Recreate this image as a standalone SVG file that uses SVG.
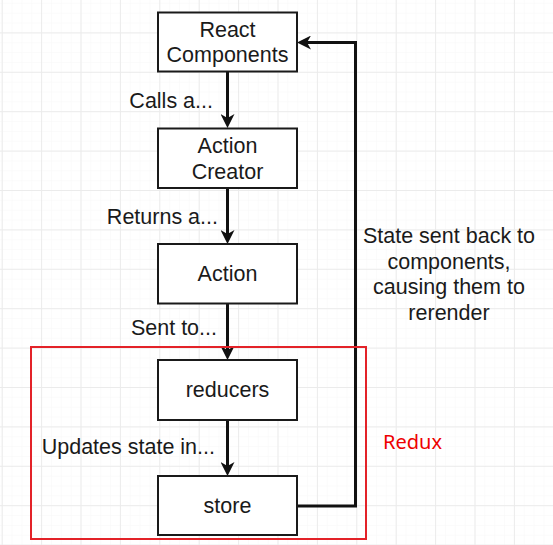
<svg xmlns="http://www.w3.org/2000/svg" width="553" height="545" viewBox="0 0 553 545">
  <style>
    .box { fill: #ffffff; stroke: #1a1a1a; stroke-width: 2; }
    .nt { font-family: "Liberation Sans", Arial, sans-serif; font-size: 21.5px; fill: #1a1a1a; text-anchor: middle; }
    .lbl { font-family: "Liberation Sans", Arial, sans-serif; font-size: 21.5px; fill: #1a1a1a; text-anchor: end; }
    .edge { fill: none; stroke: #111111; stroke-width: 3; }
  </style>
  <defs>
    <pattern id="minor" patternUnits="userSpaceOnUse" x="1.7" y="-7" width="9.85" height="9.85">
      <path d="M0,0 V9.85 M0,0 H9.85" fill="none" stroke="#f8f8f8" stroke-width="1"/>
    </pattern>
    <pattern id="major" patternUnits="userSpaceOnUse" x="1.7" y="-7" width="39.4" height="39.4">
      <path d="M0.5,0 V39.4 M0,0.5 H39.4" fill="none" stroke="#ebebeb" stroke-width="1"/>
    </pattern>
    <marker id="arrow" markerUnits="userSpaceOnUse" viewBox="0 0 14 14" markerWidth="14" markerHeight="14" refX="8" refY="7" orient="auto">
      <path d="M0,0 L14,7 L0,14 L4,7 Z" fill="#111111"/>
    </marker>
  </defs>
  <rect width="553" height="545" fill="#ffffff"/>
  <rect width="553" height="545" fill="url(#minor)"/>
  <rect width="553" height="545" fill="url(#major)"/>

  <g id="connectors">
    <path class="edge" d="M227.5,71 V122" marker-end="url(#arrow)"/>
    <path class="edge" d="M227.5,188 V238" marker-end="url(#arrow)"/>
    <path class="edge" d="M227.5,303 V354" marker-end="url(#arrow)"/>
    <path class="edge" d="M227.5,420 V470" marker-end="url(#arrow)"/>
    <path class="edge" d="M297,506 H355.5 V42.5 H303" marker-end="url(#arrow)"/>
    <text class="lbl" x="213" y="108">Calls a...</text>
    <text class="lbl" x="218" y="224">Returns a...</text>
    <text class="lbl" x="217" y="335">Sent to...</text>
    <text class="lbl" x="215" y="454">Updates state in...</text>
    <text class="nt" x="449" y="243">State sent back to</text>
    <text class="nt" x="449" y="268.5">components,</text>
    <text class="nt" x="449" y="294">causing them to</text>
    <text class="nt" x="449" y="319.5">rerender</text>
  </g>

  <g id="react-components">
    <rect class="box" x="158" y="12.5" width="139" height="59"/>
    <text class="nt" x="227.5" y="36.5">React</text>
    <text class="nt" x="227.5" y="62">Components</text>
  </g>
  <g id="action-creator">
    <rect class="box" x="158" y="128.5" width="139" height="59.5"/>
    <text class="nt" x="227.5" y="153">Action</text>
    <text class="nt" x="227.5" y="178.5">Creator</text>
  </g>
  <g id="action">
    <rect class="box" x="158" y="244" width="139" height="59.5"/>
    <text class="nt" x="227.5" y="281">Action</text>
  </g>
  <g id="reducers">
    <rect class="box" x="158" y="360" width="139" height="60"/>
    <text class="nt" x="227.5" y="397">reducers</text>
  </g>
  <g id="store">
    <rect class="box" x="158" y="476" width="139" height="59"/>
    <text class="nt" x="227.5" y="513">store</text>
  </g>

  <g id="redux">
    <rect x="31" y="347" width="335" height="192" fill="none" stroke="#e32228" stroke-width="2"/>
    <text x="383" y="449" font-family="'Noto Sans', 'Liberation Sans', sans-serif" font-size="20" fill="#ee0000">Redux</text>
  </g>
</svg>
